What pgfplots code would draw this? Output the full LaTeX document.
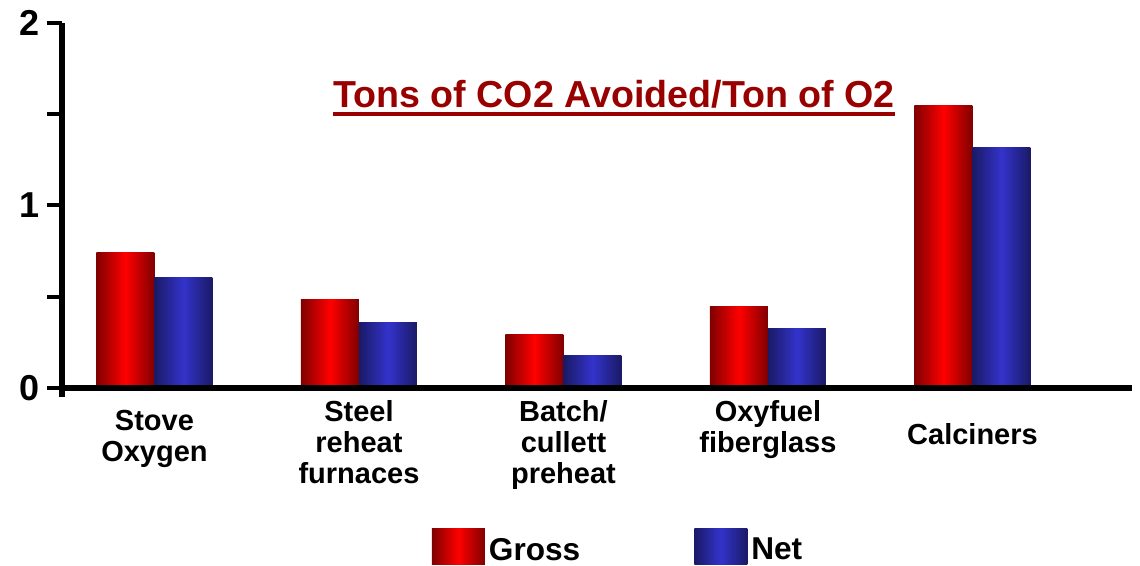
\documentclass[border=0pt]{standalone}
\usepackage{fontspec}
\setmainfont{Liberation Sans}
\usepackage{pgfplots}
\pgfplotsset{compat=1.18}
\definecolor{rdark}{RGB}{128,0,0}
\definecolor{rmid}{RGB}{255,0,0}
\definecolor{bdark}{RGB}{26,26,102}
\definecolor{bmid}{RGB}{51,51,204}
\definecolor{titlered}{RGB}{153,0,0}
\pgfplotsset{
  gross/.style={draw=none, bar shift=-14.5pt, left color=rdark, right color=rdark, middle color=rmid,
    legend image code/.code={\shade[left color=rdark, right color=rdark, middle color=rmid] (0pt,-7pt) rectangle (26.5pt,11pt);}},
  net/.style={draw=none, bar shift=14.5pt, left color=bdark, right color=bdark, middle color=bmid,
    legend image code/.code={\shade[left color=bdark, right color=bdark, middle color=bmid] (0pt,-7pt) rectangle (26.5pt,11pt);}},
}
\begin{document}
\begin{tikzpicture}
\begin{axis}[
  at={(0,0)}, anchor=south west,
  scale only axis, width=535pt, height=182.5pt,
  xmin=-0.452, xmax=4.78, ymin=0, ymax=2,
  axis lines*=left,
  axis line style={line width=2.8pt, black},
  y axis line style={shorten <=-4.5pt},
  axis on top,
  ybar=0pt, bar width=29pt,
  ytick={0,0.5,1,1.5,2}, yticklabels={0,,1,,2},
  xtick={0,1,2,3,4},
  xticklabels={{\rule{0pt}{15pt}Stove\\Oxygen},{Steel\\reheat\\furnaces},{Batch/\\cullett\\preheat},{Oxyfuel\\fiberglass},{\rule{0pt}{22pt}Calciners}},
  tick align=outside, major tick length=7.5pt,
  y tick style={line width=2pt, black},
  x tick style={draw=none},
  yticklabel style={font=\fontsize{18}{20}\selectfont\bfseries},
  xticklabel style={font=\fontsize{14.5}{15.7}\selectfont\bfseries, align=center, anchor=north, yshift=5pt},
  legend columns=2,
  legend style={at={(0.5206,-0.438)}, anchor=center, draw=none, fill=none,
    font=\fontsize{15.8}{18}\selectfont\bfseries,
    /tikz/every even column/.append style={column sep=55pt}},
]
% Gross
\addplot[gross] coordinates {(0,0.745)};
\addlegendentry{Gross}
\addplot[gross, forget plot] coordinates {(1,0.486)};
\addplot[gross, forget plot] coordinates {(2,0.293)};
\addplot[gross, forget plot] coordinates {(3,0.448)};
\addplot[gross, forget plot] coordinates {(4,1.547)};
% Net
\addplot[net] coordinates {(0,0.608)};
\addlegendentry{Net}
\addplot[net, forget plot] coordinates {(1,0.358)};
\addplot[net, forget plot] coordinates {(2,0.179)};
\addplot[net, forget plot] coordinates {(3,0.325)};
\addplot[net, forget plot] coordinates {(4,1.317)};
\end{axis}
\node[anchor=base, inner sep=0pt, text=titlered, font=\fontsize{18.8}{20}\selectfont\bfseries] (T) at (276pt,140pt) {Tons of CO2 Avoided/Ton of O2};
\draw[titlered, line width=2pt] ([yshift=-3pt]T.base west) -- ([yshift=-3pt]T.base east);
\pgfresetboundingbox
\useasboundingbox (-31pt,-89pt) rectangle (539pt,194pt);
\end{tikzpicture}
\end{document}
